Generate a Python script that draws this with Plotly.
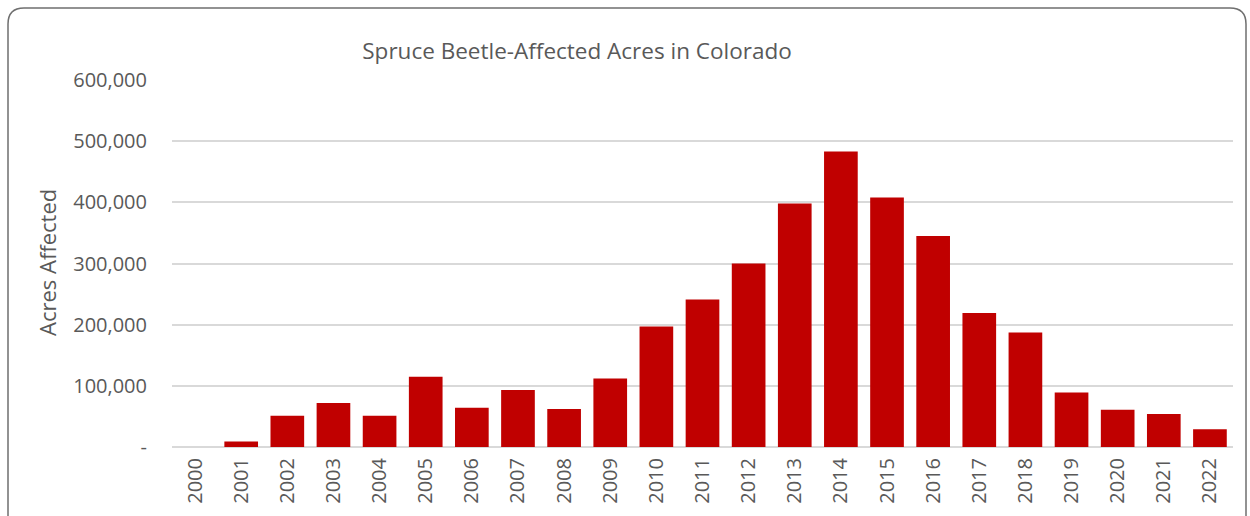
import plotly.graph_objects as go

years = [str(y) for y in range(2000, 2023)]
acres = [0, 9000, 51000, 72000, 51000, 115000, 64000, 93000, 62000, 112000,
         197000, 241000, 300000, 398000, 483000, 408000, 345000, 219000, 187000,
         89000, 61000, 54000, 29000]
ytick_vals = [0, 100000, 200000, 300000, 400000, 500000, 600000]
ytick_text = ["-", "100,000", "200,000", "300,000", "400,000", "500,000", "600,000"]

W, H = 1250, 516
L, R, T, B = 172, 17, 80, 69
pw, ph = W - L - R, H - T - B

def px(x):
    return (x - L) / pw

def py(y):
    return (H - B - y) / ph

font_family = "Open Sans, Noto Sans, sans-serif"
grey = "#595959"

fig = go.Figure(go.Bar(
    x=years, y=acres,
    marker=dict(color="#C00000", line=dict(width=0)),
))

# rounded outer border
x0, y0, x1, y1, r = 8, 8, 1246, 530, 16
path = (f"M {px(x0)} {py(y0 + r)} "
        f"Q {px(x0)} {py(y0)} {px(x0 + r)} {py(y0)} "
        f"L {px(x1 - r)} {py(y0)} "
        f"Q {px(x1)} {py(y0)} {px(x1)} {py(y0 + r)} "
        f"L {px(x1)} {py(y1)} L {px(x0)} {py(y1)} Z")

fig.update_layout(
    width=W, height=H,
    margin=dict(l=L, r=R, t=T, b=B),
    paper_bgcolor="white", plot_bgcolor="white",
    bargap=0.27,
    showlegend=False,
    font=dict(family=font_family, color=grey),
    title=dict(text="Spruce Beetle-Affected Acres in Colorado",
               xref="container", yref="container",
               x=577 / W, xanchor="center", y=1 - 51 / H, yanchor="middle",
               font=dict(size=22.5, color=grey, family=font_family)),
    shapes=[dict(type="path", xref="paper", yref="paper", path=path,
                 line=dict(color="#6f6f6f", width=1.5), layer="above")],
    annotations=[dict(text="Acres Affected", xref="paper", yref="paper",
                      x=px(47), y=py(263), xanchor="center", yanchor="middle",
                      textangle=-90, showarrow=False,
                      font=dict(size=22, color=grey, family=font_family))],
)
fig.update_xaxes(tickangle=-90, tickfont=dict(size=20, color=grey),
                 showgrid=False, showline=False, ticks="", type="category",
                 ticklabelstandoff=6)
fig.update_yaxes(range=[0, 600000], tickvals=ytick_vals, ticktext=ytick_text,
                 tickfont=dict(size=20, color=grey), showgrid=True,
                 gridcolor="#d9d9d9", gridwidth=1.5, zeroline=True,
                 zerolinecolor="#d9d9d9", zerolinewidth=1.5, ticks="",
                 ticklabelstandoff=24)

fig.write_html("out.html")
